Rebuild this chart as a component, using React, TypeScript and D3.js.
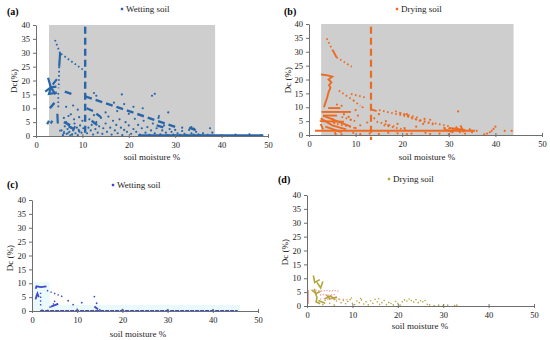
import React, { useEffect, useRef } from "react";
import * as d3 from "d3";

type P = [number, number];

const xTicks = [0, 10, 20, 30, 40, 50];
const yTicks = [0, 5, 10, 15, 20, 25, 30, 35, 40];

// (a) wetting soil
const dotsA: P[] = [
  [5.5, 2], [6, 1], [6.2, 3.5], [6.5, 5], [6.8, 2.5], [7, 4], [7.2, 1.5], [7.5, 3], [7.8, 0.5], [8, 2],
  [8.3, 4.5], [8.5, 1], [8.8, 3], [9, 0.3], [9.2, 2.2], [9.5, 3.8], [9.8, 1.2], [10, 5.5], [10.2, 2.8],
  [6, 6.5], [7, 7.2], [8.2, 6], [9.3, 6.8], [5.8, 0.3], [6.6, 0.8], [7.4, 0.2],
  [11, 1], [11.3, 3], [11.5, 6], [11.8, 2], [12, 4], [12.3, 0.5], [12.5, 7.5], [12.8, 2.5], [13, 5],
  [13.3, 1.2], [13.6, 3.5], [14, 6.5], [14.3, 0.8], [14.5, 2.8], [15, 4.5], [15.3, 1.5], [15.6, 7],
  [16, 3], [16.3, 0.5], [16.6, 5.5], [17, 2], [17.3, 4], [17.6, 1], [18, 6], [18.3, 3], [18.6, 0.3],
  [19, 2.2], [19.3, 5], [19.6, 1.5], [20, 3.8],
  [20.5, 0.8], [21, 2.5], [21.3, 6.2], [21.6, 1.5], [22, 4], [22.4, 0.5], [22.8, 2.8], [23.2, 5.5],
  [23.6, 1.2], [24, 3.2], [24.4, 0.4], [24.8, 2], [25.2, 4.5], [25.6, 1], [26, 2.8], [26.4, 6.5],
  [26.8, 0.6], [27.2, 2], [27.6, 3.8], [28, 1.2], [28.4, 0.3], [28.8, 2.5], [29.2, 1.5], [29.6, 0.5], [30, 2.2],
  [30.5, 1], [31, 0.4], [31.5, 1.8], [32, 0.8], [32.5, 0.3], [33, 2.2], [33.5, 1], [34, 0.5], [34.5, 1.5],
  [35, 0.6], [35.5, 0.2], [36, 1], [37, 0.4], [37.5, 2.8], [38, 1.2],
  [8, 11], [9, 9.5], [12.5, 15.5], [13, 14.5], [16.8, 12], [18.5, 15], [19, 11.5], [21, 10.5], [23, 10],
  [25, 14.5], [25.6, 15.2], [28.5, 8.5], [7.5, 7.8], [6.5, 10.5], [15, 8.5], [17.5, 9], [20, 8],
  [26.5, 7.2], [31.5, 3], [33.5, 3.2], [34, 2.7],
  [40, 0.3], [43, 0.5], [46, 0.6], [48.5, 0.2],
];
const dashA: P[][] = [
  [[10.6, 39.4], [10.6, 0]],
  [[6.2, 16], [8, 15]],
  [[10.6, 14.3], [30.5, 3]],
  [[3, 10], [4.5, 13]],
  [[10.9, 10], [13, 8.5]],
  [[6, 5], [8.5, 3]],
  [[7, 3.5], [9.5, 1.5]],
  [[12, 5.5], [13.5, 3.5]],
  [[13, 8], [14, 6.8]],
  [[26, 3.8], [28, 2.8]],
  [[33, 3], [35, 1.8]],
];
const solidA: P[][] = [
  [[5.2, 30], [5, 25]],
  [[2.6, 21], [3.2, 17.5], [4.4, 17.8]],
  [[2.0, 16], [3.2, 17.5], [4.2, 15]],
  [[3.2, 17.5], [2.8, 15.2], [4.5, 15.6]],
  [[3.6, 18.5], [4.5, 20.5]],
  [[4.7, 4.5], [4.6, 8]],
  [[2.4, 4.2], [2.8, 5.5]],
  [[3.2, 4.5], [3.5, 5.5]],
  [[22, 0.2], [49, 0.2]],
];
const dottedA: P[][] = [
  [[4.1, 34.6], [5.2, 29.8]],
  [[5.4, 29.6], [10.2, 23.8]],
  [[5, 25], [4.9, 17.2]],
  [[4.8, 15.5], [4.8, 10]],
  [[5, 2], [8, 0.5]],
];

// (b) drying soil
const dotsB: P[] = [
  [32, 8.5], [40, 3], [39.6, 2.2], [39.2, 1.5], [38.8, 1], [38.2, 0.5], [37.6, 0.2], [42, 1.5], [43.5, 1.5],
  [36, 1.5], [35, 1], [34.5, 2], [33.5, 0.5], [30, 0.3], [28, 0.5], [26, 0.4], [25, 0.8], [22, 0.5],
  [21, 0.3], [19, 0.6], [17, 0.8], [15, 0.4], [13, 0.5], [11, 0.3], [9.5, 0.8], [7, 0.2], [29, 2.5],
  [31, 2], [24.5, 4], [23, 3], [20.5, 2.5], [19, 4], [17, 3.5], [16.5, 5], [12.5, 4.5], [11, 3.5],
  [10, 2.5], [10.5, 7], [10, 9], [11.5, 10], [14, 6], [15, 7.5], [9, 5.5], [8.5, 6.5], [7.5, 7.5],
  [6, 11], [7, 10.5], [21, 7.5], [26, 5.5], [24.8, 5.8],
];
const dashB: P[][] = [
  [[13.3, 39], [13.3, -1.8]],
];
const solidB: P[][] = [
  [[2.6, 21.8], [4, 21.5], [5, 21], [4.2, 20], [4.8, 19], [4.3, 18], [4.6, 17], [4.2, 15.5], [3.9, 13.5], [3.5, 11.5], [3.2, 10]],
  [[5.1, 30.6], [5.9, 28]],
  [[4.1, 9.7], [6.7, 9.7]],
  [[2.7, 8.3], [9, 8.3]],
  [[3, 7], [6, 7]],
  [[2.3, 5], [7.5, 4.8]],
  [[1.3, 1.55], [35.6, 1.55]],
  [[3, 7], [6, 5], [9, 3]],
  [[2.5, 6], [5, 3.5], [8, 2]],
  [[3.5, 3], [7, 1]],
  [[2.5, 4], [3, 2]],
  [[5, 6], [5.5, 4]],
  [[30, 2.5], [33.5, 1.8]],
  [[31.5, 3], [32.5, 0.8]],
  [[32.5, 3.5], [33.2, 1]],
  [[29, 2], [31, 1]],
  [[13.4, 9.2], [14.5, 8.6]],
  [[5.5, 1], [5.8, 0]],
];
const dottedB: P[][] = [
  [[3.8, 34.8], [5.2, 30]],
  [[5.9, 28], [9.2, 24.6]],
  [[6.4, 16], [9.5, 12.5]],
  [[9, 14.8], [12.3, 13.4]],
  [[9.5, 12.5], [11, 10.5]],
  [[15, 9], [22, 6.3]],
  [[18.5, 8.6], [24, 5]],
  [[22, 6], [27, 4]],
  [[27, 4.2], [30.5, 3]],
  [[14.5, 4.8], [18.5, 3]],
  [[16, 3.5], [21, 1.8]],
  [[19.5, 7.9], [23.8, 6.1]],
  [[23.8, 5.4], [27, 3.6]],
  [[29, 2.5], [32, 1.8]],
  [[6, 4], [10, 2.5]],
  [[7, 6.5], [10, 5]],
];

// (c) wetting soil
const shadeC: [number, number, number][] = [[0, 3.9, 10.5], [0, 46, 2.2]];
const dotsC: P[] = [
  [8, 3.7], [9.1, 2.3], [5, 3.5], [11, 3], [13.8, 5.2], [14.3, 2.8], [15, 0.4], [4, 1.4], [2.2, 0.3],
  [3.5, 0.2], [10, 0.6], [20, 0.5], [30, 0.4], [40, 0.3],
];
const solidC: P[][] = [
  [[0.8, 8.0], [1.0, 8.9], [2.0, 8.6], [3.2, 8.9]],
  [[0.8, 4.2], [1.0, 5.5], [1.2, 6.3], [1.5, 5.0]],
  [[4.2, 1.6], [5.8, 2.6]],
  [[13.8, 1.6], [14.6, 0.6]],
];
const bandC: P[][] = [[[1.8, 0.1], [45.5, 0.1]]];
const dottedC: P[][] = [
  [[1.9, 6.6], [1.9, 1.5]],
  [[3.3, 7.4], [6.9, 5.1]],
  [[4.6, 2.5], [6, 2.5]],
];

// (d) drying soil
const solidD: P[][] = [
  [[1.4, 11], [1.7, 8.5], [2.8, 9.5]],
  [[2.2, 8.5], [3, 6.5], [3.5, 8.8]],
  [[1, 5.8], [2, 4.5], [3, 5.3]],
  [[1.6, 6.2], [2.2, 3], [2, 1.5], [2.9, 0.8]],
  [[3.8, 2.5], [5.2, 3.6], [6.2, 2.2]],
  [[4.3, 4], [5, 2.6], [6.6, 3.2]],
  [[2.5, 2], [4, 1]],
];
const dotsD: P[] = [
  [6.5, 1.8], [7, 2.5], [7.5, 1.2], [8, 2], [8.5, 0.8], [9, 1.6], [9.5, 2.3], [10, 1], [10.5, 0.5],
  [11, 1.8], [11.5, 1.2], [12, 2.2], [12.5, 0.7], [13, 1.5], [13.5, 0.4], [14, 1.9], [14.5, 1], [15, 2.4],
  [15.5, 1.5], [16, 0.6], [16.5, 1.2], [17, 2], [17.5, 0.5], [18, 1.3], [18.5, 0.9], [19, 0.4], [19.5, 1.6],
  [20, 1], [20.5, 0.3], [21, 1.5], [21.5, 2.2], [22, 1.8], [22.5, 2.5], [23, 2], [23.5, 1.4], [24, 2.3],
  [24.5, 1.2], [25, 1.9], [25.5, 1.5], [26, 2], [26.5, 0.6], [27, 0.4], [28, 0.2], [29, 0.3], [30, 0.2],
  [31, 0.3], [32.5, 0.2], [33, 0.3], [4, 2], [5, 1], [3.5, 0.5], [6, 0.3], [9.8, 2.9], [11.8, 2.7], [15.8, 2.6],
];
const pinkD: P[] = [
  [1.5, 5.5], [2, 5.6], [2.6, 5.5], [3.2, 5.4], [3.8, 5.5], [4.4, 5.6], [5, 5.4], [5.6, 5.5], [6.2, 5.5], [6.8, 5.4],
  [3, 4], [3.6, 4.1], [4.2, 4], [4.8, 3.9], [5.4, 4], [6, 4.1],
  [3, 2.5], [3.8, 2.7], [4.6, 2.4], [5.4, 2.6], [6.4, 2.5], [7.2, 2.3], [8, 2.4], [8.8, 2.2],
];
const pinkLineD: P[][] = [[[0.3, 5.8], [0.3, 0.8]]];

const FONT = "'Liberation Serif', 'Times New Roman', serif";

type Layer = { data: P[][]; color: string; width: number; dash?: string };
type Panel = {
  x0: number; x1: number; y0: number; y1: number;
  label: string; legend: string; legendX: number; legendY: number; markColor: string;
  titleX: number; titleY: number; ylab: string; ylabX: number; ylabY: number;
  labelX: number; labelY: number;
  shades: [number, number, number][]; shadeColor: string;
  layers: Layer[];
  dots: { data: P[]; color: string; r: number }[];
};

const BLUE = "#2866a8";
const ORANGE = "#ec6b22";
const VIOLET = "#3f48cc";
const OLIVE = "#b4a43c";
const PINK = "#f3a0a0";

function drawPanel(svg: any, p: Panel) {
  const x = d3.scaleLinear().domain([0, 50]).range([p.x0, p.x1]);
  const y = d3.scaleLinear().domain([0, 40]).range([p.y0, p.y1]);
  const g = svg.append("g");

  p.shades.forEach(([a, b, top]) => {
    g.append("rect")
      .attr("x", x(a)).attr("y", y(top))
      .attr("width", x(b) - x(a)).attr("height", y(0) - y(top))
      .attr("fill", p.shadeColor);
  });

  const line = d3.line<P>().x(d => x(d[0])).y(d => y(d[1]));
  p.layers.forEach(l => {
    g.selectAll(null)
      .data(l.data)
      .join("path")
      .attr("d", (d: P[]) => line(d))
      .attr("fill", "none")
      .attr("stroke", l.color)
      .attr("stroke-width", l.width)
      .attr("stroke-dasharray", l.dash || null);
  });

  p.dots.forEach(s => {
    g.selectAll(null)
      .data(s.data)
      .join("circle")
      .attr("cx", (d: P) => x(d[0]))
      .attr("cy", (d: P) => y(d[1]))
      .attr("r", s.r)
      .attr("fill", s.color);
  });

  // axes
  const ya = g.append("g")
    .attr("transform", `translate(${p.x0},0)`)
    .call(d3.axisLeft(y).tickValues(yTicks).tickSizeInner(3).tickSizeOuter(0).tickPadding(3));
  const xa = g.append("g")
    .attr("transform", `translate(0,${p.y0})`)
    .call(d3.axisBottom(x).tickValues(xTicks).tickSizeInner(2).tickSizeOuter(0).tickPadding(4));
  xa.selectAll(".tick line").attr("y1", -2).attr("y2", 2);
  [ya, xa].forEach(a => {
    a.select(".domain").attr("stroke", "#6e6e6e");
    a.selectAll(".tick line").attr("stroke", "#6e6e6e");
    a.selectAll("text").attr("font-family", FONT).attr("font-size", 8.5).attr("fill", "#222");
  });

  // texts
  g.append("text").attr("x", p.labelX).attr("y", p.labelY)
    .attr("font-family", FONT).attr("font-size", 10).attr("font-weight", "bold").text(p.label);
  g.append("rect").attr("x", p.legendX - 1.2).attr("y", p.legendY - 1.2)
    .attr("width", 2.4).attr("height", 2.4).attr("fill", p.markColor);
  g.append("text").attr("x", p.legendX + 4).attr("y", p.legendY + 3)
    .attr("font-family", FONT).attr("font-size", 9).attr("fill", "#222").text(p.legend);
  g.append("text").attr("x", p.titleX).attr("y", p.titleY).attr("text-anchor", "middle")
    .attr("font-family", FONT).attr("font-size", 9).attr("fill", "#222").text("soil moisture %");
  g.append("text")
    .attr("transform", `translate(${p.ylabX},${p.ylabY}) rotate(-90)`)
    .attr("text-anchor", "middle").attr("dy", "0.35em")
    .attr("font-family", FONT).attr("font-size", 9).attr("fill", "#222").text(p.ylab);
}

const panels: Panel[] = [
  {
    x0: 36, x1: 268, y0: 136, y1: 25, label: "(a)", labelX: 7, labelY: 15,
    legend: "Wetting soil", legendX: 122, legendY: 9, markColor: BLUE,
    titleX: 152, titleY: 160, ylab: "Dc(%)", ylabX: 14, ylabY: 81,
    shades: [[2.8, 38.6, 40]], shadeColor: "#cecece",
    layers: [
      { data: solidA, color: BLUE, width: 2.2 },
      { data: dashA, color: BLUE, width: 2.4, dash: "7,4" },
      { data: dottedA, color: BLUE, width: 1.8, dash: "1.6,2.6" },
    ],
    dots: [{ data: dotsA, color: BLUE, r: 1.1 }],
  },
  {
    x0: 309, x1: 542, y0: 135, y1: 24, label: "(b)", labelX: 284, labelY: 15,
    legend: "Drying soil", legendX: 397, legendY: 9, markColor: ORANGE,
    titleX: 427, titleY: 160, ylab: "Dc (%)", ylabX: 288, ylabY: 80,
    shades: [[2.6, 43.9, 40]], shadeColor: "#cecece",
    layers: [
      { data: solidB, color: ORANGE, width: 1.9 },
      { data: dashB, color: ORANGE, width: 2.2, dash: "7,4" },
      { data: dottedB, color: ORANGE, width: 1.8, dash: "1.6,2.6" },
    ],
    dots: [{ data: dotsB, color: ORANGE, r: 1.1 }],
  },
  {
    x0: 32, x1: 258, y0: 311, y1: 200, label: "(c)", labelX: 7, labelY: 188,
    legend: "Wetting soil", legendX: 113, legendY: 185, markColor: VIOLET,
    titleX: 138, titleY: 337, ylab: "Dc (%)", ylabX: 10, ylabY: 258,
    shades: shadeC, shadeColor: "#eaf9fc",
    layers: [
      { data: solidC, color: VIOLET, width: 1.8 },
      { data: bandC, color: VIOLET, width: 1.6, dash: "4,1" },
      { data: dottedC, color: VIOLET, width: 1.4, dash: "1.4,2.4" },
    ],
    dots: [{ data: dotsC, color: VIOLET, r: 0.9 }],
  },
  {
    x0: 307, x1: 534, y0: 306, y1: 195, label: "(d)", labelX: 278, labelY: 183,
    legend: "Drying soil", legendX: 389, legendY: 179, markColor: OLIVE,
    titleX: 420, titleY: 329, ylab: "Dc (%)", ylabX: 285, ylabY: 252,
    shades: [], shadeColor: "none",
    layers: [
      { data: pinkLineD, color: PINK, width: 1.2 },
      { data: solidD, color: OLIVE, width: 1.6 },
    ],
    dots: [
      { data: pinkD, color: PINK, r: 0.8 },
      { data: dotsD, color: OLIVE, r: 0.8 },
    ],
  },
];

const App = () => {
  const svgRef = useRef<SVGSVGElement>(null);

  useEffect(() => {
    document.body.style.margin = "0";
    const svg = d3.select(svgRef.current).attr("width", 550).attr("height", 340);
    svg.selectAll("*").remove();
    svg.append("rect").attr("width", 550).attr("height", 340).attr("fill", "#fff");
    panels.forEach(p => drawPanel(svg, p));
  }, []);

  return <svg ref={svgRef} style={{ display: "block" }} />;
};

export default App;
